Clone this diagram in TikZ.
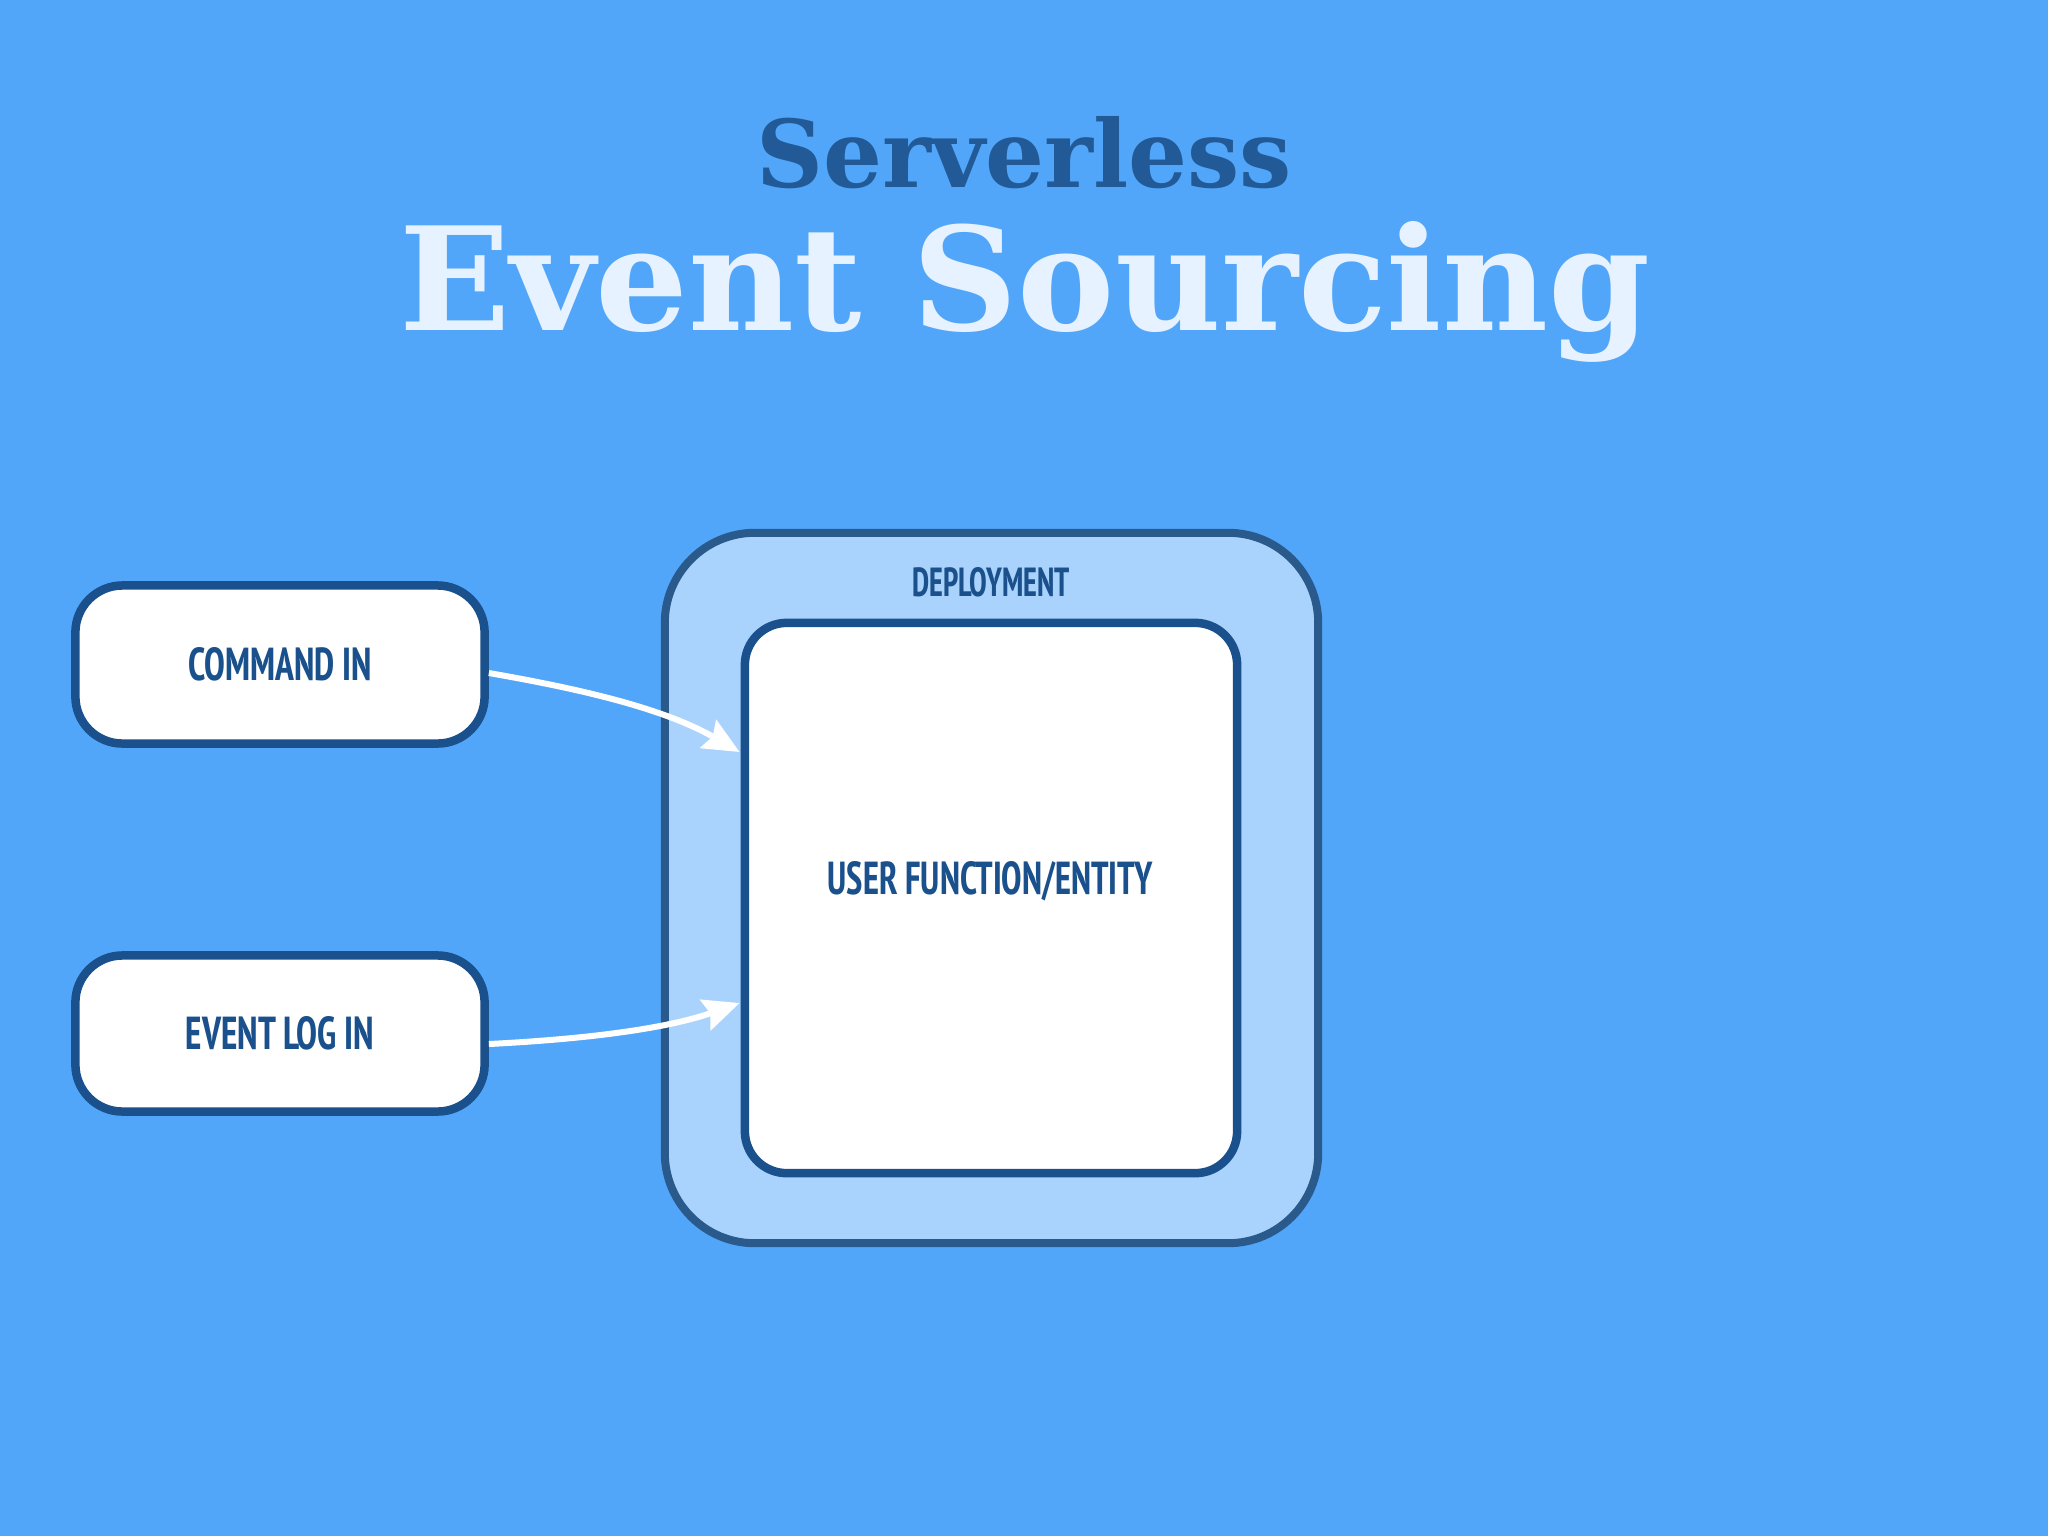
\documentclass[tikz,border=0pt]{standalone}
\usepackage{fontspec}
\usepackage{graphicx}
\usetikzlibrary{arrows.meta,calc}
\newfontfamily\labelfont{PT Sans Narrow}
\newfontfamily\titlefont{DejaVu Serif}
\definecolor{bgblue}{HTML}{52A6F9}
\definecolor{outerfill}{HTML}{A9D3FC}
\definecolor{outerline}{HTML}{2A5A8B}
\definecolor{boxline}{HTML}{1A518C}
\definecolor{labeltext}{HTML}{1A518C}
\definecolor{titledark}{HTML}{215A96}
\definecolor{titlelight}{HTML}{E6F2FF}
\newcommand{\lbl}[3]{\resizebox{#1}{#2}{\labelfont\bfseries #3}}
\begin{document}
\begin{tikzpicture}[x=0.01cm,y=-0.01cm,
  inbox/.style={draw=boxline, fill=white, line width=0.85mm, inner sep=0, text=labeltext},
  lbltext/.style={inner sep=0, text=labeltext},
  arr/.style={draw=white, line width=0.6mm, -{Stealth[length=3.6mm,width=3.2mm,inset=0.5mm]}}]
\fill[bgblue] (0,0) rectangle (2048,1536);
\useasboundingbox (0,0) rectangle (2048,1536);

% title
\node[anchor=base, inner sep=0, text=titledark] (t1) at (1024.5,187)
  {\resizebox{5.35cm}{0.71cm}{\titlefont\bfseries Serverless}};
\node[anchor=base, inner sep=0, text=titlelight] (t2) at (1025,330)
  {\resizebox{12.5cm}{1.09cm}{\titlefont\bfseries Event Sourcing}};

% deployment container
\node[draw=outerline, fill=outerfill, line width=0.8mm, rounded corners=0.9cm,
  minimum width=6.53cm, minimum height=7.10cm, inner sep=0] (deploy) at (991.5,888) {};
\node[lbltext] (deploytext) at (991,582.5) {\lbl{1.57cm}{0.29cm}{DEPLOYMENT}};

\node[inbox, rounded corners=0.42cm, minimum width=4.92cm, minimum height=5.50cm] (inner) at (991,898) {};
\node[lbltext] (innertext) at (990.5,881.5) {\lbl{3.25cm}{0.33cm}{USER FUNCTION/ENTITY}};

% input boxes
\node[inbox, rounded corners=0.47cm, minimum width=4.09cm, minimum height=1.58cm] (cmd) at (280,664.5)
  {\lbl{1.83cm}{0.33cm}{COMMAND IN}};
\node[inbox, rounded corners=0.47cm, minimum width=4.09cm, minimum height=1.56cm] (evt) at (280,1033.5)
  {\lbl{1.88cm}{0.33cm}{EVENT LOG IN}};

% connectors
\draw[arr] ([yshift=-0.85mm]cmd.east) .. controls +(80,14) and +(-80,-46) .. ($(inner.west)+(-1,-146)$);
\draw[arr] ([yshift=-1.05mm]evt.east) .. controls +(80,-4) and +(-80,28) .. ($(inner.west)+(-1,105)$);
\end{tikzpicture}
\end{document}
